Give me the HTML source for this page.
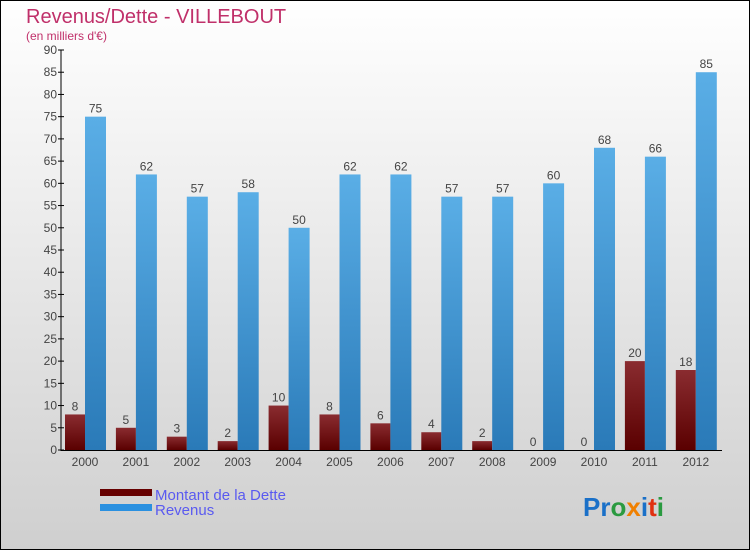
<!DOCTYPE html>
<html><head><meta charset="utf-8"><style>
body{margin:0;width:750px;height:550px;overflow:hidden;font-family:"Liberation Sans",sans-serif}
</style></head><body>
<svg id="c" width="750" height="550" xmlns="http://www.w3.org/2000/svg">
<defs>
<linearGradient id="bg" x1="0" y1="0" x2="0" y2="1"><stop offset="0" stop-color="#ffffff"/><stop offset="1" stop-color="#cfcfcf"/></linearGradient>
<linearGradient id="gr" x1="0" y1="0" x2="0" y2="1"><stop offset="0" stop-color="#8a2c30"/><stop offset="1" stop-color="#5a0000"/></linearGradient>
<linearGradient id="gb" x1="0" y1="0" x2="0" y2="1"><stop offset="0" stop-color="#5aaee6"/><stop offset="1" stop-color="#2a7ab8"/></linearGradient>
</defs>
<rect x="0.5" y="0.5" width="749" height="549" fill="url(#bg)" stroke="#000"/>
<text x="26" y="23" font-size="20" fill="#c0306a">Revenus/Dette - VILLEBOUT</text>
<text x="26" y="40" font-size="12" fill="#c0306a">(en milliers d'€)</text>
<g id="axes"></g><g id="bars"></g>
<rect x="100" y="489" width="52" height="7" fill="#660000"/>
<text x="155" y="500" font-size="15" fill="#5a5af0">Montant de la Dette</text>
<rect x="100" y="504" width="52" height="7" fill="#2a90e0"/>
<text x="155" y="515" font-size="15" fill="#5a5af0">Revenus</text>
<text x="583" y="516" font-size="26" font-weight="bold"><tspan fill="#1a70c8">Pr</tspan><tspan fill="#2a9a40">o</tspan><tspan fill="#f08000">x</tspan><tspan fill="#1a70c8">i</tspan><tspan fill="#e03010">t</tspan><tspan fill="#2a9a40">i</tspan></text>
</svg>
<script>
const years=["2000","2001","2002","2003","2004","2005","2006","2007","2008","2009","2010","2011","2012"];
const dette=[8,5,3,2,10,8,6,4,2,0,0,20,18];
const revenus=[75,62,57,58,50,62,62,57,57,60,68,66,85];
const ticks=[0,5,10,15,20,25,30,35,40,45,50,55,60,65,70,75,80,85,90];
const NS="http://www.w3.org/2000/svg";
const y=v=>450-v*400/90;
const xc=i=>85+i*50.9;
function mk(t,a,p){const e=document.createElementNS(NS,t);for(const k in a)e.setAttribute(k,a[k]);p.appendChild(e);return e;}
const ax=document.getElementById('axes'),bg=document.getElementById('bars');
let l=mk('line',{x1:61,y1:50,x2:61,y2:451,stroke:'#000'},ax);


l=mk('line',{x1:61,y1:450.5,x2:722,y2:450.5,stroke:'#000'},ax);


ticks.forEach(t=>{
 const tk=mk('line',{x1:58,x2:64,y1:y(t),y2:y(t),stroke:'#000'},ax);
 
 
 const tx=mk('text',{x:57,y:y(t)+4,'text-anchor':'end','font-size':12,fill:'#444'},ax);
 tx.textContent=t;
 
 
});
years.forEach((yr,i)=>{
 const c=xc(i);
 const tx=mk('text',{x:c,y:466,'text-anchor':'middle','font-size':12,fill:'#444'},ax);
 tx.textContent=yr;
 
 
 const r=mk('rect',{x:c-20,y:y(dette[i]),width:20,height:450-y(dette[i]),fill:'url(#gr)'},bg);
 
 
 const b=mk('rect',{x:c,y:y(revenus[i]),width:21,height:450-y(revenus[i]),fill:'url(#gb)'},bg);
 
 
 const v1=mk('text',{x:c-10,y:y(dette[i])-4,'text-anchor':'middle','font-size':12,fill:'#444'},bg);
 v1.textContent=dette[i];
 
 
 const v2=mk('text',{x:c+10.5,y:y(revenus[i])-4,'text-anchor':'middle','font-size':12,fill:'#444'},bg);
 v2.textContent=revenus[i];
 
 
});
</script>
</body></html>
